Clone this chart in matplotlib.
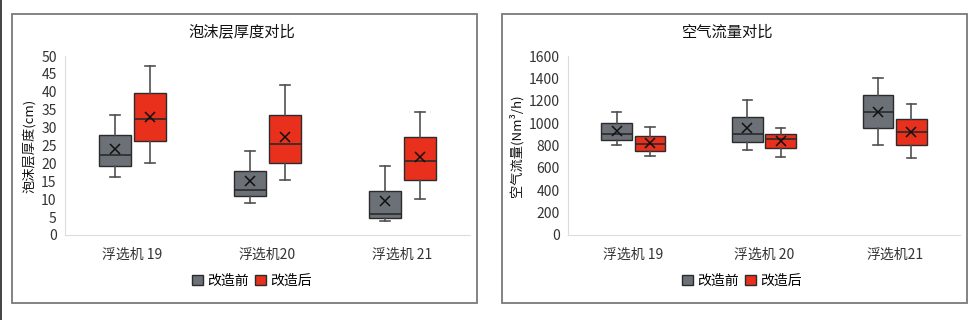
import numpy as np
import matplotlib
matplotlib.use("Agg")
import matplotlib.pyplot as plt
from matplotlib.patches import Rectangle, Patch

plt.rcParams['font.family'] = ['Noto Sans CJK SC', 'DejaVu Sans']

# =========================
# 数据
# =========================
groups_left = ["浮选机 19", "浮选机20", "浮选机 21"]
groups_right = ["浮选机 19", "浮选机 20", "浮选机21"]
series = ["改造前", "改造后"]

# 泡沫层厚度 (cm)
foam_before_low = [16.3, 8.9, 3.8]
foam_before_q1 = [19.3, 10.8, 4.7]
foam_before_med = [22.3, 12.5, 5.8]
foam_before_q3 = [27.8, 18.0, 12.4]
foam_before_high = [33.4, 23.6, 19.3]
foam_before_mean = [24.0, 15.0, 9.6]

foam_after_low = [20.1, 15.3, 10.1]
foam_after_q1 = [26.3, 20.2, 15.4]
foam_after_med = [32.4, 25.3, 20.7]
foam_after_q3 = [39.7, 33.4, 27.5]
foam_after_high = [47.1, 41.8, 34.4]
foam_after_mean = [33.1, 27.5, 21.7]

# 空气流量 (Nm3/h)
air_before_low = [801, 757, 801]
air_before_q1 = [852, 831, 956]
air_before_med = [906, 906, 1102]
air_before_q3 = [1001, 1055, 1251]
air_before_high = [1099, 1207, 1400]
air_before_mean = [933, 956, 1102]

air_after_low = [703, 700, 685]
air_after_q1 = [751, 778, 801]
air_after_med = [813, 861, 918]
air_after_q3 = [882, 903, 1037]
air_after_high = [965, 959, 1168]
air_after_mean = [822, 843, 918]

color_before = "#6c7177"
color_after = "#e8301c"
edge_color = "#2b2b2b"


def make_stats(low, q1, med, q3, high, mean):
    stats = []
    for i in range(len(low)):
        stats.append(dict(whislo=low[i], q1=q1[i], med=med[i], q3=q3[i],
                          whishi=high[i], mean=mean[i], fliers=[]))
    return stats


def draw_panel(ax, labels, before, after, ymax, ystep, ylabel):
    x = np.arange(len(labels))
    for stats, off, col in [(before, -0.128, color_before), (after, 0.128, color_after)]:
        ax.bxp(stats, positions=x + off, widths=0.235, showmeans=True,
               patch_artist=True, capwidths=0.07,
               boxprops=dict(facecolor=col, edgecolor=edge_color, linewidth=1.0),
               medianprops=dict(color=edge_color, linewidth=1.2),
               whiskerprops=dict(color="#505050", linewidth=1.2),
               capprops=dict(color="#505050", linewidth=1.2),
               meanprops=dict(marker="x", markeredgecolor="#111111",
                              markersize=7, markeredgewidth=1.1))
    ax.set_xlim(-0.5, len(labels) - 0.5)
    ax.set_ylim(0, ymax)
    ax.set_yticks(np.arange(0, ymax + 1, ystep))
    ax.set_xticks(x)
    ax.set_xticklabels(labels)
    ax.tick_params(length=0, labelsize=10, colors="#333333", pad=6)
    ax.tick_params(axis="x", pad=9)
    for s in ["top", "right"]:
        ax.spines[s].set_visible(False)
    for s in ["left", "bottom"]:
        ax.spines[s].set_color("#dcdcdc")
    ax.set_ylabel(ylabel, fontsize=9.5, color="#111111", labelpad=4)


fig = plt.figure(figsize=(9.8, 3.2), dpi=100)

# 面板边框
for x0 in [12, 502]:
    fig.patches.append(Rectangle((x0 / 980, 1 - 303 / 320), 465 / 980, 289 / 320,
                                 transform=fig.transFigure, fill=False,
                                 edgecolor="#7a7a7a", linewidth=1.3))
fig.add_artist(plt.Line2D([0.5 / 980, 0.5 / 980], [0, 1], color="#222222",
                          linewidth=1.2, transform=fig.transFigure))

ax1 = fig.add_axes([65 / 980, 1 - 235 / 320, 405 / 980, 179 / 320])
ax2 = fig.add_axes([568 / 980, 1 - 235 / 320, 392 / 980, 179 / 320])

draw_panel(ax1, groups_left,
           make_stats(foam_before_low, foam_before_q1, foam_before_med,
                      foam_before_q3, foam_before_high, foam_before_mean),
           make_stats(foam_after_low, foam_after_q1, foam_after_med,
                      foam_after_q3, foam_after_high, foam_after_mean),
           50, 5, "泡沫层厚度(cm)")
draw_panel(ax2, groups_right,
           make_stats(air_before_low, air_before_q1, air_before_med,
                      air_before_q3, air_before_high, air_before_mean),
           make_stats(air_after_low, air_after_q1, air_after_med,
                      air_after_q3, air_after_high, air_after_mean),
           1600, 200, "空气流量(Nm³/h)")

fig.text(242 / 980, 1 - 32 / 320, "泡沫层厚度对比", ha="center", va="center",
         fontsize=11, color="#111111")
fig.text(728 / 980, 1 - 32 / 320, "空气流量对比", ha="center", va="center",
         fontsize=11, color="#111111")

handles = [Patch(facecolor=color_before, edgecolor=edge_color, label=series[0]),
           Patch(facecolor=color_after, edgecolor=edge_color, label=series[1])]
for cx in [252, 742]:
    fig.legend(handles=handles, loc="center", bbox_to_anchor=(cx / 980, 1 - 281 / 320),
               ncol=2, frameon=False, fontsize=10, handlelength=0.8, handleheight=0.8,
               handletextpad=0.3, columnspacing=0.4)

fig.savefig("out.png", dpi=100, facecolor="white")
